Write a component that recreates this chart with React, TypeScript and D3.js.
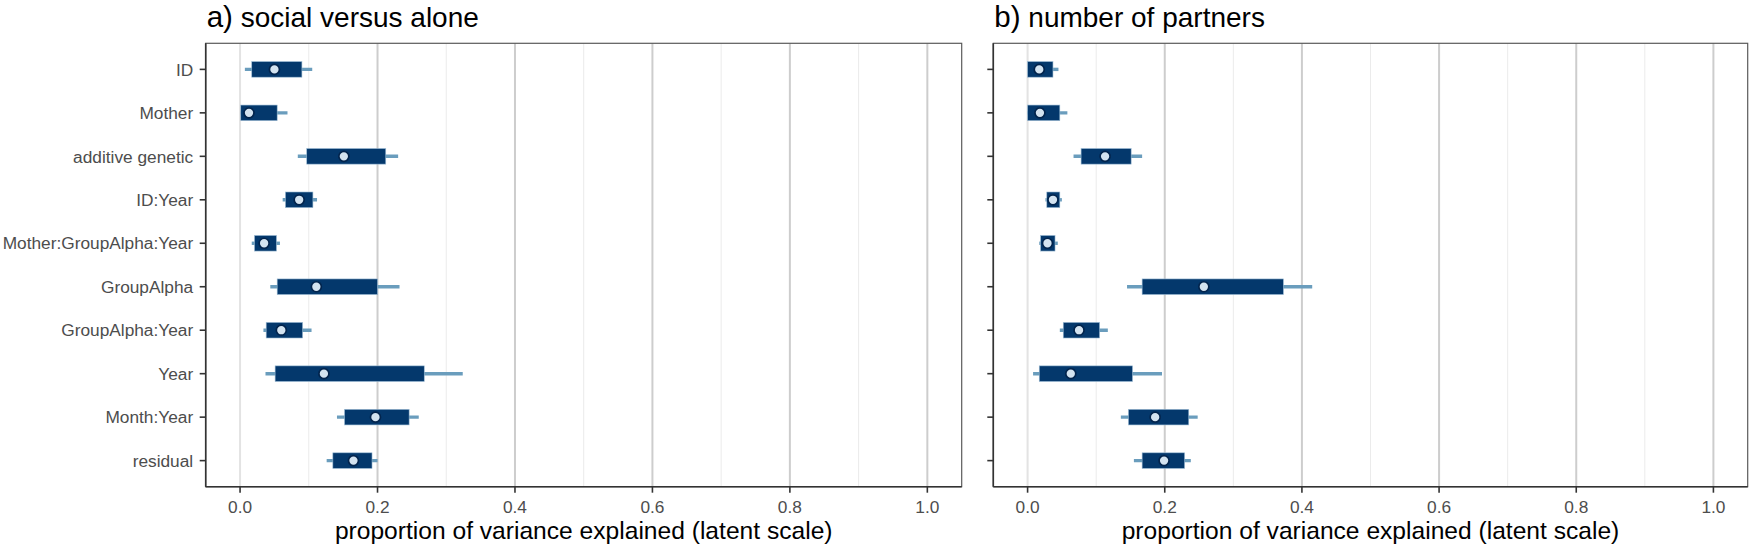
import { FC, useEffect, useRef } from 'react';
import * as d3 from 'd3';

const categories = [
    'ID', 'Mother', 'additive genetic', 'ID:Year', 'Mother:GroupAlpha:Year',
    'GroupAlpha', 'GroupAlpha:Year', 'Year', 'Month:Year', 'residual'
];

// a) social versus alone
const socialPoint = [0.050, 0.013, 0.151, 0.086, 0.035, 0.111, 0.060, 0.122, 0.197, 0.165];
const socialInnerLo = [0.017, 0.001, 0.097, 0.066, 0.021, 0.054, 0.038, 0.051, 0.152, 0.135];
const socialInnerHi = [0.090, 0.054, 0.212, 0.106, 0.053, 0.200, 0.091, 0.268, 0.246, 0.192];
const socialOuterLo = [0.007, 0.001, 0.084, 0.062, 0.017, 0.044, 0.034, 0.037, 0.141, 0.126];
const socialOuterHi = [0.105, 0.069, 0.230, 0.112, 0.058, 0.232, 0.104, 0.324, 0.260, 0.200];

// b) number of partners
const partnersPoint = [0.017, 0.018, 0.113, 0.037, 0.029, 0.257, 0.075, 0.063, 0.186, 0.199];
const partnersInnerLo = [0.000, 0.000, 0.078, 0.028, 0.019, 0.167, 0.052, 0.017, 0.147, 0.167];
const partnersInnerHi = [0.037, 0.047, 0.151, 0.047, 0.040, 0.373, 0.105, 0.153, 0.235, 0.229];
const partnersOuterLo = [0.003, 0.000, 0.067, 0.026, 0.017, 0.145, 0.047, 0.008, 0.136, 0.155];
const partnersOuterHi = [0.045, 0.058, 0.167, 0.050, 0.044, 0.415, 0.117, 0.196, 0.248, 0.238];

const majorTicks = [0, 0.2, 0.4, 0.6, 0.8, 1.0];
const minorTicks = [0.1, 0.3, 0.5, 0.7, 0.9];

const panelLabels = ['a)', 'b)'];
const panelTitles = ['social versus alone', 'number of partners'];
const xTitle = 'proportion of variance explained (latent scale)';

const W = 1749;
const H = 545;
const FONT = '"Liberation Sans", Arial, Helvetica, sans-serif';

const App: FC = () => {
    const svgRef = useRef<SVGSVGElement>(null);

    useEffect(() => {
        const svg = d3.select(svgRef.current);
        svg.selectAll('*').remove();

        const top = 43.3;
        const bottom = 486.7;
        const panels = [
            { left: 205.7, right: 961.7, showLabels: true,
              point: socialPoint, iLo: socialInnerLo, iHi: socialInnerHi, oLo: socialOuterLo, oHi: socialOuterHi },
            { left: 993.3, right: 1747.7, showLabels: false,
              point: partnersPoint, iLo: partnersInnerLo, iHi: partnersInnerHi, oLo: partnersOuterLo, oHi: partnersOuterHi }
        ];

        const y = d3.scalePoint<string>()
            .domain(categories)
            .range([top, bottom])
            .padding(0.6);

        panels.forEach((p, pi) => {
            const x = d3.scaleLinear().domain([-0.05, 1.05]).range([p.left, p.right]);
            const g = svg.append('g');

            g.append('rect')
                .attr('x', p.left).attr('y', top)
                .attr('width', p.right - p.left).attr('height', bottom - top)
                .attr('fill', 'white');

            g.selectAll('line.minor')
                .data(minorTicks)
                .enter().append('line')
                .attr('x1', d => x(d)).attr('x2', d => x(d))
                .attr('y1', top).attr('y2', bottom)
                .attr('stroke', '#ebebeb').attr('stroke-width', 1);

            g.selectAll('line.major')
                .data(majorTicks)
                .enter().append('line')
                .attr('x1', d => x(d)).attr('x2', d => x(d))
                .attr('y1', top).attr('y2', bottom)
                .attr('stroke', d => (d === 0 ? '#e3e3e3' : '#cdcdcd'))
                .attr('stroke-width', 2);

            const rows = categories.map((c, i) => ({
                c, pt: p.point[i], iLo: p.iLo[i], iHi: p.iHi[i], oLo: p.oLo[i], oHi: p.oHi[i]
            }));

            g.selectAll('line.outer')
                .data(rows)
                .enter().append('line')
                .attr('x1', d => x(d.oLo)).attr('x2', d => x(d.oHi))
                .attr('y1', d => y(d.c)!).attr('y2', d => y(d.c)!)
                .attr('stroke', '#6a9dbd').attr('stroke-width', 3.4);

            g.selectAll('rect.inner')
                .data(rows)
                .enter().append('rect')
                .attr('x', d => x(d.iLo))
                .attr('width', d => x(d.iHi) - x(d.iLo))
                .attr('y', d => y(d.c)! - 7.8)
                .attr('height', 15.6)
                .attr('fill', '#04386c')
                .attr('stroke', '#9dbdd6')
                .attr('stroke-width', 0.6);

            g.selectAll('circle.pt')
                .data(rows)
                .enter().append('circle')
                .attr('cx', d => x(d.pt))
                .attr('cy', d => y(d.c)!)
                .attr('r', 5)
                .attr('fill', '#d3e3f0')
                .attr('stroke', '#02244d')
                .attr('stroke-width', 1.7);

            // panel border
            g.append('rect')
                .attr('x', p.left).attr('y', top)
                .attr('width', p.right - p.left).attr('height', bottom - top)
                .attr('fill', 'none')
                .attr('stroke', '#5a5a5a').attr('stroke-width', 1.2);

            // axis lines
            g.append('line')
                .attr('x1', p.left).attr('x2', p.left).attr('y1', top).attr('y2', bottom)
                .attr('stroke', '#333').attr('stroke-width', 1.6);
            g.append('line')
                .attr('x1', p.left).attr('x2', p.right).attr('y1', bottom).attr('y2', bottom)
                .attr('stroke', '#333').attr('stroke-width', 1.6);

            // y ticks
            g.selectAll('line.ytick')
                .data(categories)
                .enter().append('line')
                .attr('x1', p.left - 6).attr('x2', p.left)
                .attr('y1', d => y(d)!).attr('y2', d => y(d)!)
                .attr('stroke', '#333').attr('stroke-width', 1.6);

            if (p.showLabels) {
                g.selectAll('text.ylab')
                    .data(categories)
                    .enter().append('text')
                    .attr('x', p.left - 12.5)
                    .attr('y', d => y(d)!)
                    .attr('dy', '0.36em')
                    .attr('text-anchor', 'end')
                    .attr('font-family', FONT)
                    .attr('font-size', 17.3)
                    .attr('fill', '#4d4d4d')
                    .text(d => d);
            }

            // x ticks
            g.selectAll('line.xtick')
                .data(majorTicks)
                .enter().append('line')
                .attr('x1', d => x(d)).attr('x2', d => x(d))
                .attr('y1', bottom).attr('y2', bottom + 6)
                .attr('stroke', '#333').attr('stroke-width', 1.6);

            g.selectAll('text.xlab')
                .data(majorTicks)
                .enter().append('text')
                .attr('x', d => x(d))
                .attr('y', 512.7)
                .attr('text-anchor', 'middle')
                .attr('font-family', FONT)
                .attr('font-size', 17.3)
                .attr('fill', '#4d4d4d')
                .text(d => d3.format('.1f')(d));

            g.append('text')
                .attr('x', (p.left + p.right) / 2)
                .attr('y', 538.5)
                .attr('text-anchor', 'middle')
                .attr('font-family', FONT)
                .attr('font-size', 24.6)
                .attr('fill', 'black')
                .text(xTitle);

            const t = g.append('text')
                .attr('x', p.left + 1)
                .attr('y', 26.8)
                .attr('font-family', FONT)
                .attr('fill', 'black');
            t.append('tspan').attr('font-size', 29.5).text(panelLabels[pi]);
            t.append('tspan').attr('font-size', 28).text(' ' + panelTitles[pi]);
        });
    }, []);

    return (
        <svg ref={svgRef} width={W} height={H}
            style={{ position: 'absolute', left: 0, top: 0, background: 'white' }} />
    );
};

export default App;
